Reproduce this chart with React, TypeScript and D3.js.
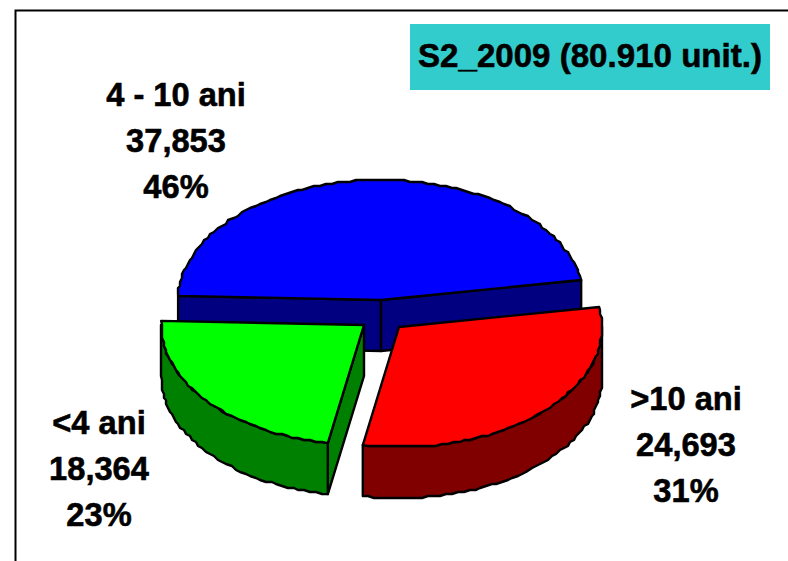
import React from "react";
import * as d3 from "d3";

const categories = [">10 ani", "<4 ani", "4 - 10 ani"];
const units = [24693, 18364, 37853];
const valueLabels = ["24,693", "18,364", "37,853"];
const percentLabels = ["31%", "23%", "46%"];
const topColors = ["#ff0000", "#00ff00", "#0000ff"];
const sideColors = ["#800000", "#008000", "#000080"];
const title = "S2_2009 (80.910 unit.)";

const W = 788, H = 561;
const cx = 381, cy = 300, rx = 203, ry = 120, depth = 51;
const explode = [[18, 27], [-17, 25], [0, 0]];
const labelPos = [[686, 410], [99, 434], [176, 106]];
const startDeg = 80.4;
const FONT = "'Liberation Sans', Arial, sans-serif";

const pie = d3.pie<number>().sort(null).startAngle((startDeg * Math.PI) / 180).endAngle(((startDeg + 360) * Math.PI) / 180);
const arcs = pie(units);

const q = (v: number) => Math.round(v / 2) * 2;
// a: d3 pie angle (clockwise from 12 o'clock)
function arcPts(a0: number, a1: number, ox: number, oy: number, dy = 0) {
  const n = Math.max(2, Math.ceil((a1 - a0) / 0.03));
  return d3.range(n + 1).map((i) => {
    const a = a0 + ((a1 - a0) * i) / n;
    const x = cx + ox + rx * Math.sin(a);
    const y = cy + oy - ry * Math.cos(a) + dy;
    return i === 0 || i === n ? ([x, y] as [number, number]) : ([q(x), q(y)] as [number, number]);
  });
}
const line = d3.line();

export default function App() {
  return (
    <svg width={W} height={H} style={{ position: "absolute", left: 0, top: 0, background: "#fff" }}>
      <path d={`M15.5 ${H}V10.5H${W}`} fill="none" stroke="#000" strokeWidth={2} />
      {[2, 1, 0].map((i) => {
        const { startAngle: a0, endAngle: a1 } = arcs[i];
        const [ox, oy] = explode[i];
        const ax = cx + ox, ay = cy + oy;
        const top = arcPts(a0, a1, ox, oy);
        const wallFrom = Math.max(a0, Math.PI / 2);
        const wallTo = Math.min(a1, (3 * Math.PI) / 2);
        const radial = (a: number) => {
          const px = ax + rx * Math.sin(a), py = ay - ry * Math.cos(a);
          return line([[ax, ay], [px, py], [px, py + depth], [ax, ay + depth]] as [number, number][])! + "Z";
        };
        const outer =
          wallTo > wallFrom
            ? line([...arcPts(wallFrom, wallTo, ox, oy), ...arcPts(wallFrom, wallTo, ox, oy, depth).reverse()])! + "Z"
            : null;
        return (
          <g key={categories[i]} stroke="#000" strokeWidth={2.4} strokeLinejoin="round">
            {Math.sin(a0) < 0 && <path d={radial(a0)} fill={sideColors[i]} />}
            {Math.sin(a1) > 0 && <path d={radial(a1)} fill={sideColors[i]} />}
            {outer && <path d={outer} fill={sideColors[i]} />}
            <path d={line([[ax, ay], ...top])! + "Z"} fill={topColors[i]} />
          </g>
        );
      })}
      <rect x={410} y={24} width={360} height={66} fill="#33cccc" />
      <text x={590} y={67} textAnchor="middle" fontFamily={FONT} fontWeight="bold" fontSize={34} textLength={344} lengthAdjust="spacingAndGlyphs" fill="#000" stroke="#000" strokeWidth={0.6}>
        {title}
      </text>
      {categories.map((c, i) => (
        <g key={c} transform={`translate(${labelPos[i][0]},${labelPos[i][1]}) scale(0.96,1)`} fontFamily={FONT} fontWeight="bold" fontSize={34} textAnchor="middle" fill="#000" stroke="#000" strokeWidth={0.6}>
          <text y={0}>{c}</text>
          <text y={46}>{valueLabels[i]}</text>
          <text y={92}>{percentLabels[i]}</text>
        </g>
      ))}
    </svg>
  );
}
